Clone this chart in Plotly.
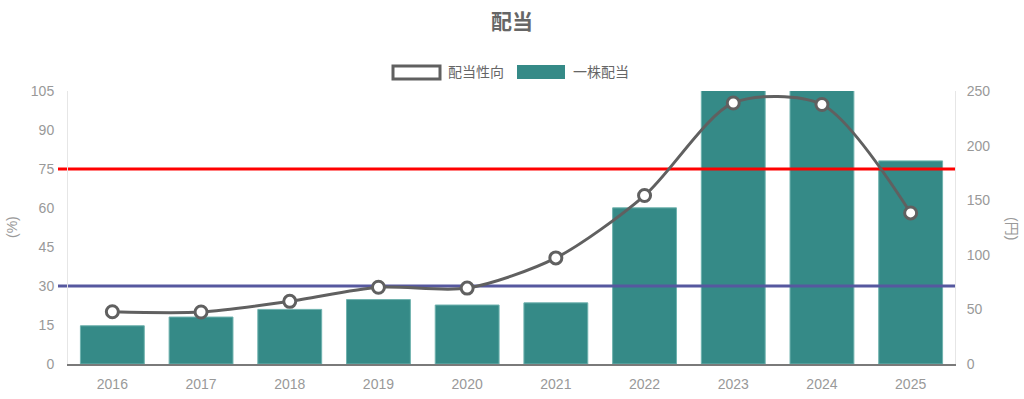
import plotly.graph_objects as go

years = [2016, 2017, 2018, 2019, 2020, 2021, 2022, 2023, 2024, 2025]
dividend_per_share = [35, 43, 50, 59, 54, 56, 143, 265, 270, 186]   # 円 (right axis)
payout_ratio = [20.1, 20.0, 24.1, 29.5, 29.2, 40.8, 64.8, 100.4, 99.8, 58.1]  # % (left axis)
ref_lines = [(75, "#ff0000"), (30, "#56589f")]
left_ticks = [0, 15, 30, 45, 60, 75, 90, 105]
right_ticks = [0, 50, 100, 150, 200, 250]

W, H = 1024, 399
PL, PR, PT, PB = 68, 955, 91, 364          # plot area in pixels
L, T, R, B = PL, PT, W - PR, H - PB
pw, ph = PR - PL, PB - PT

def px(x):
    return (x - PL) / pw

def py(y):
    return (PB - y) / ph

FONT = "Liberation Sans, Arial, Noto Sans CJK JP, sans-serif"
TEAL = "#358a87"
GRAY = "#606060"

fig = go.Figure()

fig.add_trace(go.Bar(
    x=years, y=dividend_per_share, yaxis="y", name="一株配当",
    width=0.72, marker=dict(color=TEAL, line=dict(color="#6fb2ae", width=1)),
    showlegend=False,
))

for val, col in ref_lines:
    fig.add_trace(go.Scatter(
        x=[years[0] - 0.5, years[-1] + 0.5], y=[val, val], yaxis="y2",
        mode="lines", line=dict(color=col, width=3), showlegend=False, hoverinfo="skip",
    ))
    fig.add_shape(type="line", xref="paper", yref="y2", x0=px(58), x1=0, y0=val, y1=val,
                  line=dict(color=col, width=3), layer="below")

fig.add_trace(go.Scatter(
    x=years, y=payout_ratio, yaxis="y2", name="配当性向",
    mode="lines+markers", line=dict(color=GRAY, width=3, shape="spline", smoothing=0.8),
    marker=dict(size=12, color="white", line=dict(color=GRAY, width=3)),
    showlegend=False, cliponaxis=False,
))

# manual legend (Chart.js style boxes)
fig.add_shape(type="rect", xref="paper", yref="paper", x0=px(393), x1=px(440), y0=py(79), y1=py(66),
              line=dict(color=GRAY, width=3), fillcolor="white")
fig.add_shape(type="rect", xref="paper", yref="paper", x0=px(517), x1=px(565), y0=py(79), y1=py(65),
              line=dict(color=TEAL, width=0), fillcolor=TEAL)
fig.add_annotation(x=px(446), y=py(72), xref="paper", yref="paper", text="配当性向", showarrow=False,
                   xanchor="left", yanchor="middle", font=dict(size=14, color="#666", family=FONT))
fig.add_annotation(x=px(571), y=py(72), xref="paper", yref="paper", text="一株配当", showarrow=False,
                   xanchor="left", yanchor="middle", font=dict(size=14, color="#666", family=FONT))

# axis titles
fig.add_annotation(x=px(2), y=py(227), xref="paper", yref="paper", text="(%)", showarrow=False,
                   textangle=-90, font=dict(size=14, color="#999", family=FONT))
fig.add_annotation(x=px(1022), y=py(228), xref="paper", yref="paper", text="(円)", showarrow=False,
                   textangle=90, font=dict(size=14, color="#999", family=FONT))

fig.update_layout(
    width=W, height=H,
    margin=dict(l=L, r=R, t=T, b=B, autoexpand=False),
    paper_bgcolor="white", plot_bgcolor="white",
    font=dict(family=FONT, color="#999", size=14),
    title=dict(text="<b>配当</b>", x=0.5, xanchor="center", y=1 - 22 / H, yanchor="middle",
               yref="container", font=dict(size=21, color="#666", family=FONT)),
    xaxis=dict(range=[years[0] - 0.5, years[-1] + 0.5], tickvals=years, ticktext=[str(y) for y in years],
               showgrid=False, zeroline=False, showline=True, linecolor="#7a7a7a", linewidth=2, automargin=False,
               ticks="outside", ticklen=6, tickcolor="rgba(0,0,0,0)", tickfont=dict(size=14, color="#999")),
    yaxis=dict(range=[0, 250], tickvals=right_ticks, side="right", showgrid=False, automargin=False,
               zeroline=False, showline=True, linecolor="#e6e6e6", linewidth=1,
               ticks="outside", ticklen=8, tickcolor="rgba(0,0,0,0)", tickfont=dict(size=14, color="#999")),
    yaxis2=dict(range=[0, 105], tickvals=left_ticks, side="left", overlaying="y", showgrid=False,
                zeroline=False, showline=True, linecolor="#e6e6e6", linewidth=1, automargin=False,
                ticks="outside", ticklen=10, tickcolor="rgba(0,0,0,0)", tickfont=dict(size=14, color="#999")),
    showlegend=False,
)

fig.write_html("out.html", config={"displayModeBar": False},
               post_script="document.body.style.margin='0';document.body.style.overflow='hidden';")
